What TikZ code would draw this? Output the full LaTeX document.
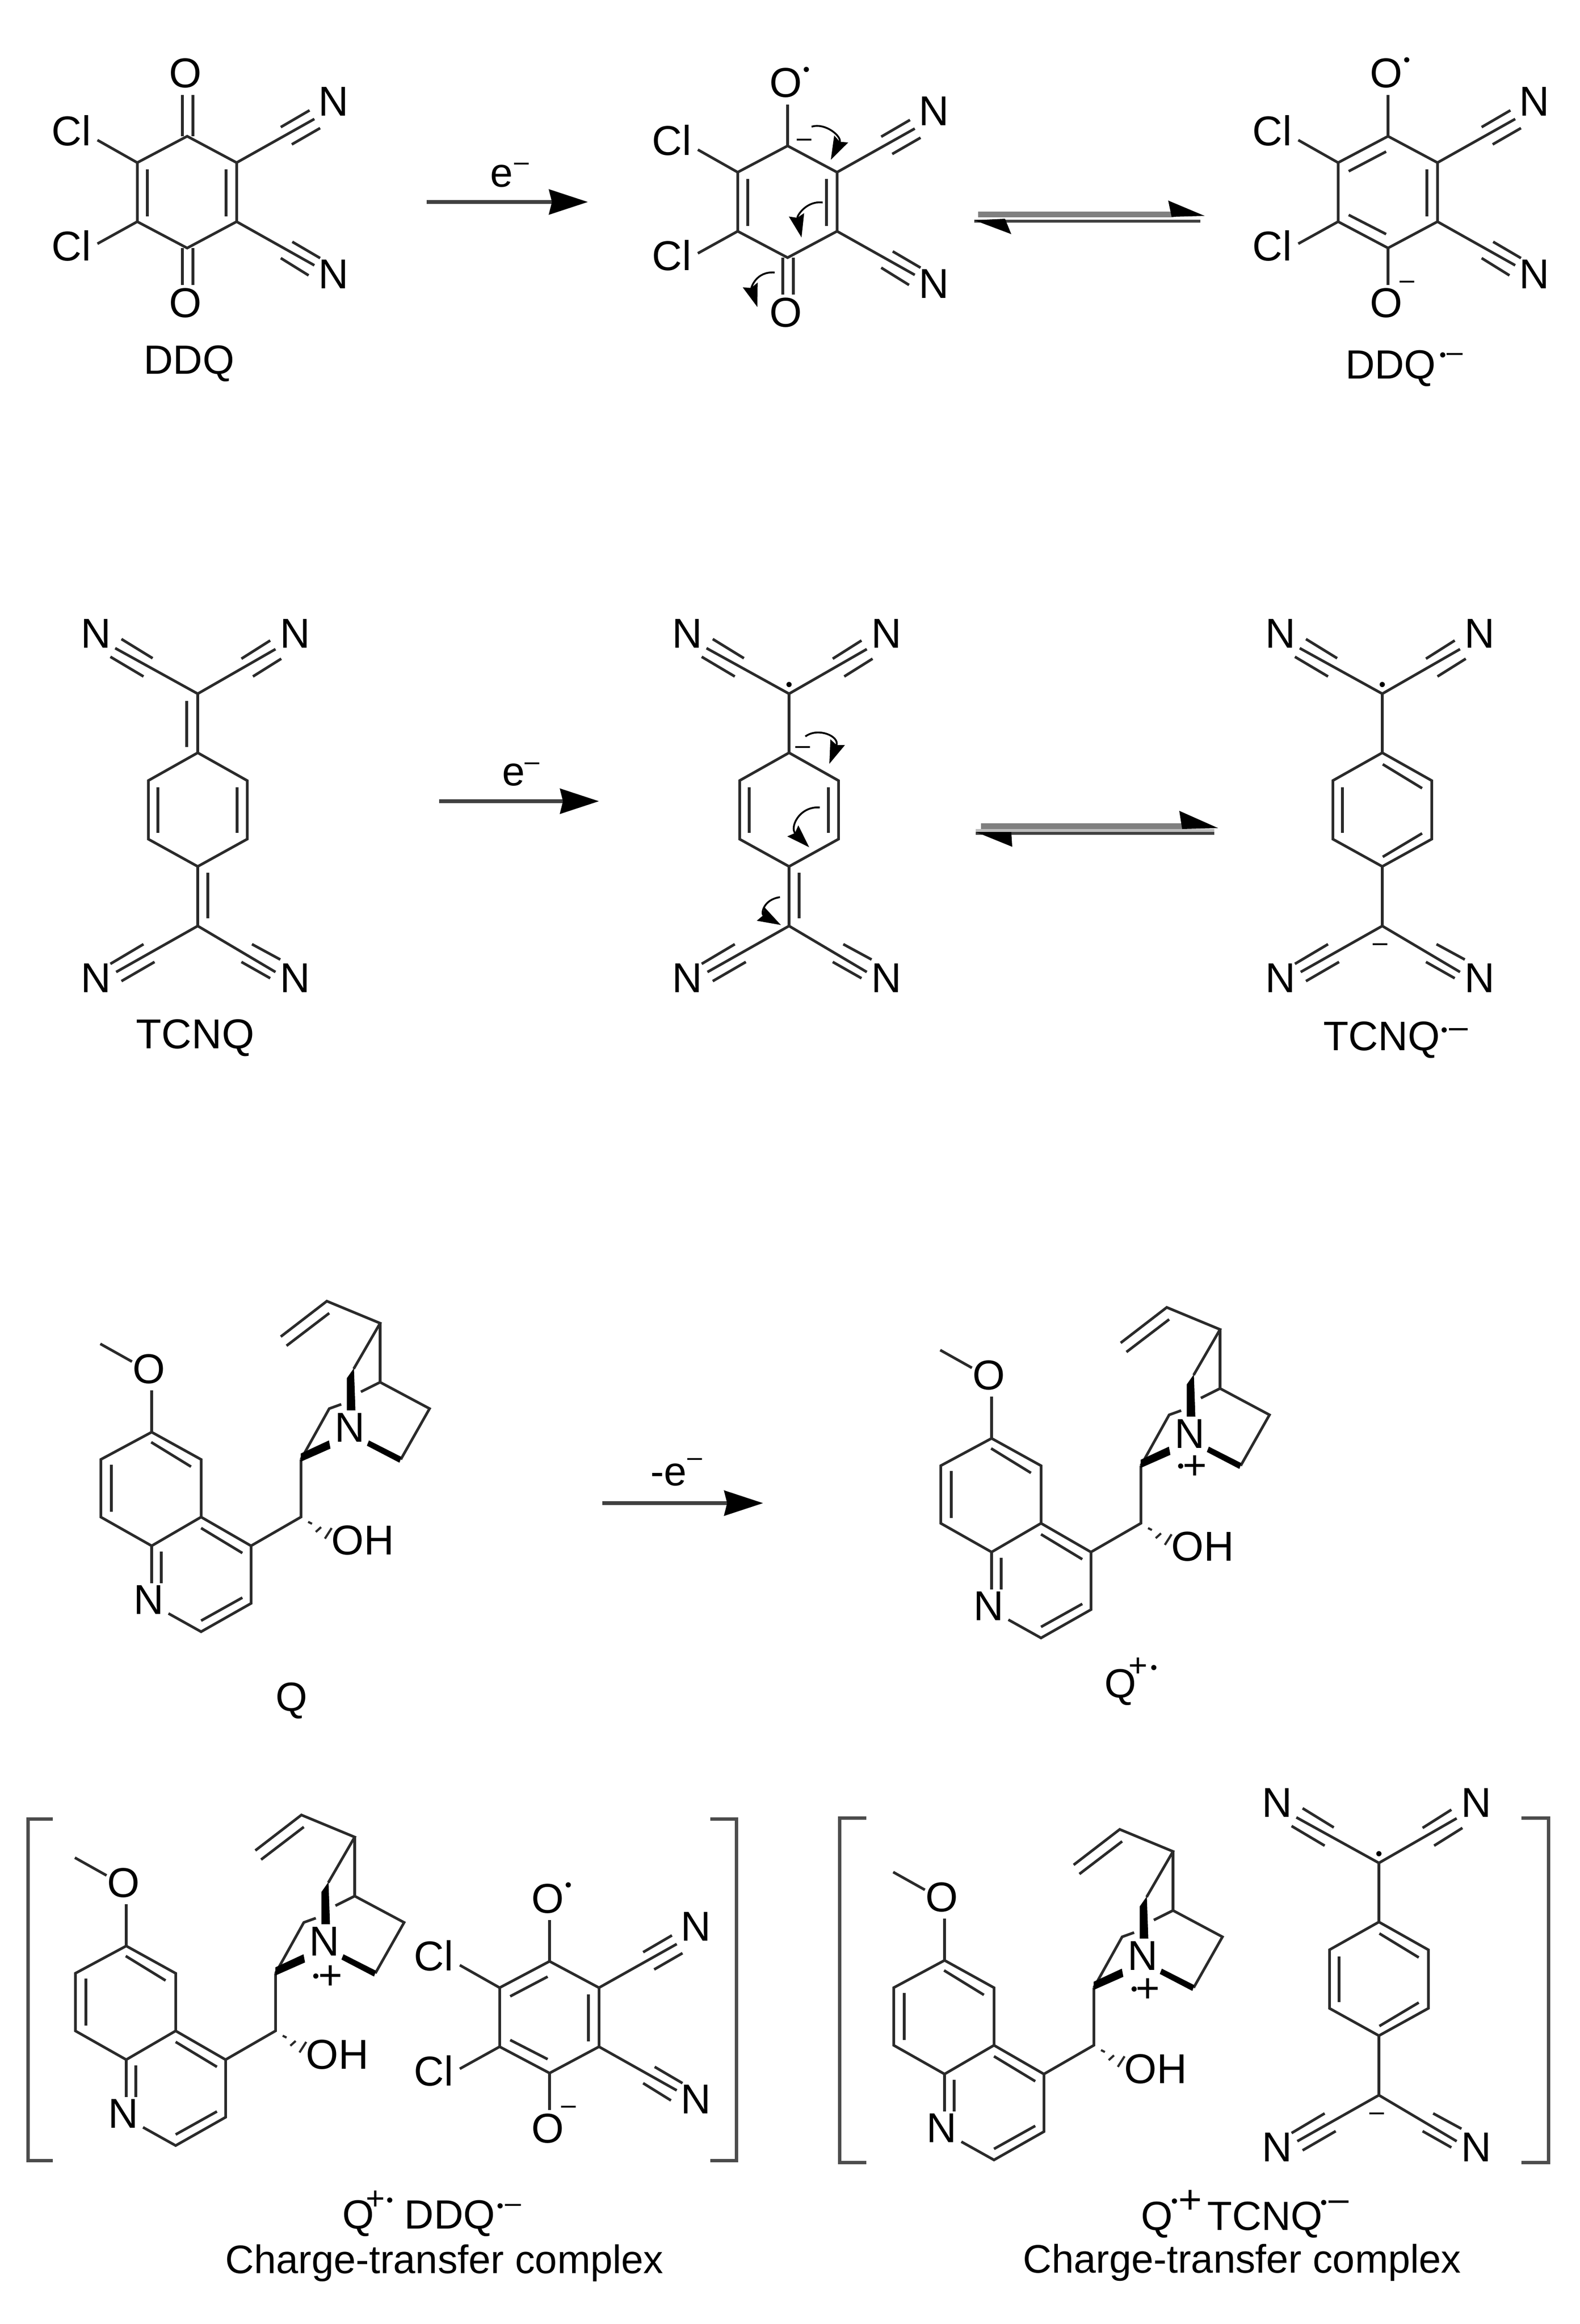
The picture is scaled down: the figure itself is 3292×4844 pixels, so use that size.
\documentclass[tikz,border=0pt]{standalone}
\usepackage{fontspec}
\setmainfont{Liberation Sans}
\usetikzlibrary{arrows.meta}
\definecolor{ink}{HTML}{2A2A2A}
\newcommand\supr[2]{\kern#1pt\raisebox{#2pt}{\fontsize{4}{4}\selectfont •}}
\newcommand\supm[3]{\kern#1pt\raisebox{#2pt}{\fontsize{#3}{#3}\selectfont –}}
\newcommand\supp[3]{\kern#1pt\raisebox{#2pt}{\fontsize{#3}{#3}\selectfont +}}
\tikzset{
  bond/.style={draw=ink,line width=.55pt,line join=miter},
  wedge/.style={fill=black,draw=black,line width=.1pt},
  hashb/.style={draw=ink,line width=.45pt},
  atom/.style={font=\fontsize{8.7}{10}\selectfont,inner sep=0pt,text=black},
  lab/.style={font=\fontsize{8.5}{10}\selectfont,inner sep=0pt,text=black},
  capt/.style={font=\fontsize{8.3}{10}\selectfont,inner sep=0pt,text=black,anchor=base},
  rdot/.style={font=\fontsize{4}{4}\selectfont,inner sep=0pt,anchor=base,yshift=-1.48pt,text=black},
  rminus/.style={font=\fontsize{5.5}{5.5}\selectfont,inner sep=0pt,anchor=base,yshift=-1.5pt,text=black},
  rplus/.style={font=\fontsize{8.6}{8.6}\selectfont,inner sep=0pt,anchor=base,yshift=-2.85pt,text=black},
  rxn/.style={draw=black!75,line width=.75pt,-{Stealth[length=8.1pt,width=5.2pt,inset=.6pt,color=black,fill=black]}},
  curly/.style={draw=black,line width=.38pt,-{Stealth[length=4.8pt,width=3.2pt,inset=.6pt]}},
  eqgray/.style={draw=black!50,line width=1.25pt},
  eqlight/.style={draw=black!26,line width=.6pt},
  eqdark/.style={draw=black!75,line width=.6pt},
  head/.style={fill=black},
  brk/.style={draw=black!70,line width=.7pt},
}
% ---- DDQ skeleton -----------------------------------------------------------
\newcommand\ddqskel{%
  \coordinate (T) at (0,-116); \coordinate (UR) at (103,-61); \coordinate (LR) at (103,62);
  \coordinate (B) at (0,117);  \coordinate (LL) at (-104,62); \coordinate (UL) at (-104,-61);
  \node[atom] (ClT) at (-241,-128) {Cl};
  \node[atom] (ClB) at (-241,112) {Cl};
  \node[atom] (NT) at (305,-188) {N};
  \node[atom] (NB) at (305,172) {N};
  \coordinate (ClTe) at (-187,-108); \coordinate (ClBe) at (-187,108);
  \coordinate (NTe) at (265,-152); \coordinate (NBe) at (265,153);
  \draw[bond] (T)--(UR)--(LR)--(B)--(LL)--(UL)--cycle;
  \draw[bond] (UL)--(ClTe); \draw[bond] (LL)--(ClBe);
  \draw[bond] (UR)--(NTe); \draw[bond] (LR)--(NBe);
  \draw[bond] (195,-135)--(255,-170); \draw[bond] (218,-99)--(277,-133);
  \draw[bond] (219,104)--(277,138); \draw[bond] (195,138)--(253,174);
  \draw[bond] (81,-47)--(81,51);
}
\newcommand\ddqOtop{\node[atom] (OT) at (-4,-247) {O};}
\newcommand\ddqObot{\node[atom] (OB) at (-4,232) {O};}
\newcommand\ddqTsingle{\coordinate (OTe) at (0,-202); \draw[bond] (T)--(OTe);}
\newcommand\ddqBsingle{\coordinate (OBe) at (0,194); \draw[bond] (B)--(OBe);}
\newcommand\ddqTdouble{\draw[bond] (-10,-116)--(-10,-202); \draw[bond] (12,-116)--(12,-202);}
\newcommand\ddqBdouble{\draw[bond] (-10,117)--(-10,194); \draw[bond] (12,117)--(12,194);}
\newcommand\ddqLvert{\draw[bond] (-83,-47)--(-83,51);}
\newcommand\ddqLangled{\draw[bond] (-82,-43)--(-4,-84); \draw[bond] (-82,48)--(-4,88);}
\newcommand\ddqdot{\node[rdot] (rad) at (39,-276) {•};}
\newcommand\ddqneg{\node[rminus] (neg) at (40,186) {–};}
% ---- TCNQ skeleton ----------------------------------------------------------
\newcommand\tcnqskel{%
  \coordinate (T) at (0,-119); \coordinate (UR) at (103,-61); \coordinate (LR) at (103,61);
  \coordinate (B) at (0,118);  \coordinate (LL) at (-103,61); \coordinate (UL) at (-103,-61);
  \coordinate (Ct) at (0,-242); \coordinate (Cb) at (0,242);
  \node[atom] (NTL) at (-212,-367) {N};
  \node[atom] (NTR) at (203,-367) {N};
  \node[atom] (NBL) at (-212,351) {N};
  \node[atom] (NBR) at (203,351) {N};
  \coordinate (TLe) at (-172,-337); \coordinate (TRe) at (162,-335);
  \coordinate (BLe) at (-170,338); \coordinate (BRe) at (162,338);
  \draw[bond] (T)--(UR)--(LR)--(B)--(LL)--(UL)--cycle;
  \draw[bond] (Ct)--(TLe); \draw[bond] (Ct)--(TRe);
  \draw[bond] (Cb)--(BLe); \draw[bond] (Cb)--(BRe);
  \draw[bond] (-159,-356)--(-94,-316); \draw[bond] (-182,-319)--(-113,-278);
  \draw[bond] (151,-353)--(91,-315); \draw[bond] (174,-315)--(115,-278);
  \draw[bond] (-182,321)--(-113,280); \draw[bond] (-159,357)--(-90,317);
  \draw[bond] (151,351)--(91,317); \draw[bond] (172,312)--(113,280);
  \draw[bond] (-83,-47)--(-83,48);
}
\newcommand\tcnqTsingle{\draw[bond] (Ct)--(T);}
\newcommand\tcnqBsingle{\draw[bond] (Cb)--(B);}
\newcommand\tcnqTdouble{\draw[bond] (Ct)--(T); \draw[bond] (-23,-227)--(-23,-131);}
\newcommand\tcnqBdouble{\draw[bond] (Cb)--(B); \draw[bond] (21,131)--(21,226);}
\newcommand\tcnqRvert{\draw[bond] (82,-47)--(82,48);}
\newcommand\tcnqRangled{\draw[bond] (1,-95)--(83,-45); \draw[bond] (1,98)--(83,49);}
\newcommand\tcnqdot{\node[rdot] (rad) at (0,-262) {•};}
\newcommand\tcnqneg{\node[rminus] (neg) at (-4,279) {–};}
% ---- quinine skeleton (coordinates of the free base) -----------------------
\newcommand\quinine{%
  \coordinate (me) at (209,2801); \coordinate (ome) at (275,2838);
  \node[atom] (ox) at (310,2854) {O};
  \coordinate (oc) at (316,2898);
  \coordinate (a1) at (316,2985); \coordinate (a2) at (419,3042); \coordinate (a3) at (419,3162);
  \coordinate (a4) at (316,3222); \coordinate (a5) at (210,3162); \coordinate (a6) at (210,3042);
  \node[atom] (nq) at (310,3335) {N};
  \coordinate (nq1) at (316,3300); \coordinate (nq2) at (351,3363);
  \coordinate (b1) at (419,3401); \coordinate (b2) at (523,3342); \coordinate (b3) at (523,3222);
  \coordinate (c1) at (627,3162); \coordinate (c2) at (627,3042);
  \node[atom] (oh) at (756,3211) {OH};
  \node[atom] (nb) at (729,2976) {N};
  \coordinate (d1) at (686,2936); \coordinate (d1n) at (711,2927);
  \coordinate (d2) at (737,2853); \coordinate (d3) at (792,2758); \coordinate (vi) at (681,2712);
  \coordinate (vi2) at (585,2786); \coordinate (d4) at (792,2881); \coordinate (d4n) at (752,2901);
  \coordinate (d5) at (895,2936); \coordinate (d6) at (835,3042);
  \draw[bond] (me)--(ome);
  \draw[bond] (oc)--(a1);
  \draw[bond] (a1)--(a2)--(a3)--(a4)--(a5)--(a6)--cycle;
  \draw[bond] (a3)--(b3)--(b2)--(b1)--(nq2);
  \draw[bond] (a4)--(nq1);
  \draw[bond] (b3)--(c1)--(c2);
  \draw[bond] (c2)--(d1)--(d1n);
  \draw[bond] (d2)--(d3)--(vi)--(vi2);
  \draw[bond] (d3)--(d4);
  \draw[bond] (d4n)--(d4)--(d5)--(d6);
  \draw[bond] (315,3006)--(398,3057);
  \draw[bond] (232,3053)--(232,3151);
  \draw[bond] (419,3185)--(505,3237);
  \draw[bond] (336,3234)--(336,3300);
  \draw[bond] (419,3378)--(505,3330);
  \draw[bond] (597,2805)--(686,2737);
  \fill[wedge] (627,3046)--(627,3030)--(685,3003)--(688,3019)--cycle;
  \fill[wedge] (d2)--(723,2873)--(723,2939)--(740,2939)--cycle;
  \fill[wedge] (769,3003)--(765,3013)--(832,3048)--(836,3037)--cycle;
  \draw[hashb] (642,3172)--(650,3176);
  \draw[hashb] (658,3193)--(669,3183);
  \draw[hashb] (677,3207)--(691,3185);
}
\begin{document}
\begin{tikzpicture}[x=.1pt,y=-.1pt]
\useasboundingbox (0,0) rectangle (3292,4844);
\fill[white] (0,0) rectangle (3292,4844);

% ---------- row 1: DDQ
\begin{scope}[shift={(390,400)},name prefix=da-]
  \ddqskel \ddqOtop \ddqObot \ddqTdouble \ddqBdouble \ddqLvert
\end{scope}
\node[lab] (ddqname) at (394,758) {DDQ};
\coordinate (ra1) at (889,421); \coordinate (ra2) at (1225,421);
\draw[rxn] (ra1)--(ra2);
\node[lab,anchor=base west] (ea) at (1019,389) {e\supm{.3}{3.4}{5.5}};

\begin{scope}[shift={(1641,420)},name prefix=db-]
  \ddqskel \ddqOtop \ddqObot \ddqTsingle \ddqBdouble \ddqLvert \ddqdot
  \node[rminus] (neg) at (35,-130) {–};
\end{scope}
\draw[curly] (1691,264) .. controls (1720,255) and (1755,285) .. (1731,333);
\draw[curly] (1714,422) .. controls (1680,418) and (1660,450) .. (1670,495);
\draw[curly] (1614,568) .. controls (1575,565) and (1565,600) .. (1578,640);

\coordinate (eqa1) at (2038,447); \coordinate (eqa2) at (2445,447);
\coordinate (eqa3) at (2030,461); \coordinate (eqa4) at (2501,461);
\draw[eqgray] (eqa1)--(eqa2);
\draw[eqdark] (eqa3)--(eqa4);
\fill[head] (2434,418)--(2510,450)--(2441,452)--cycle;
\fill[head] (2030,459)--(2107,488)--(2094,456)--cycle;

\begin{scope}[shift={(2892,400)},name prefix=dc-]
  \ddqskel \ddqOtop \ddqObot \ddqTsingle \ddqBsingle \ddqLangled \ddqdot \ddqneg
\end{scope}
\node[lab,anchor=base west] (ddqr) at (2801,789) {DDQ\supr{.8}{3.6}\supm{.1}{3.6}{6}};

% ---------- row 2: TCNQ
\begin{scope}[shift={(412,1688)},name prefix=ta-]
  \tcnqskel \tcnqTdouble \tcnqBdouble \tcnqRvert
\end{scope}
\node[lab,font=\fontsize{8.7}{10}\selectfont] (tcnqname) at (407,2163) {TCNQ};
\coordinate (rb1) at (915,1670); \coordinate (rb2) at (1248,1670);
\draw[rxn] (rb1)--(rb2);
\node[lab,anchor=base west] (eb) at (1044,1637) {e\supm{0}{3.2}{5.5}};

\begin{scope}[shift={(1644,1688)},name prefix=tb-]
  \tcnqskel \tcnqTsingle \tcnqBdouble \tcnqRvert \tcnqdot
  \node[rminus] (neg) at (29,-132) {–};
\end{scope}
\draw[curly] (1678,1535) .. controls (1705,1515) and (1750,1535) .. (1728,1592);
\draw[curly] (1708,1683) .. controls (1665,1680) and (1645,1725) .. (1686,1766);
\draw[curly] (1625,1870) .. controls (1590,1875) and (1585,1905) .. (1627,1928);

\coordinate (eqb1) at (2044,1722); \coordinate (eqb2) at (2470,1722);
\coordinate (eqb3) at (2033,1731); \coordinate (eqb4) at (2530,1731);
\coordinate (eqb5) at (2033,1737); \coordinate (eqb6) at (2530,1737);
\draw[eqgray] (eqb1)--(eqb2);
\draw[eqlight] (eqb3)--(eqb4);
\draw[eqdark] (eqb5)--(eqb6);
\fill[head] (2457,1690)--(2538,1726)--(2463,1728)--cycle;
\fill[head] (2033,1734)--(2109,1765)--(2107,1734)--cycle;

\begin{scope}[shift={(2880,1688)},name prefix=tc-]
  \tcnqskel \tcnqTsingle \tcnqBsingle \tcnqRangled \tcnqdot \tcnqneg
\end{scope}
\node[lab,anchor=base west,font=\fontsize{8.6}{10}\selectfont] (tcnqr) at (2755,2189) {TCNQ\supr{.2}{2.9}\supm{.3}{2.6}{7}};

% ---------- row 3: quinine
\begin{scope}[name prefix=qa-]
  \quinine
\end{scope}
\node[lab] (qname) at (608,3545) {Q};
\coordinate (rc1) at (1255,3133); \coordinate (rc2) at (1590,3133);
\draw[rxn] (rc1)--(rc2);
\node[lab,anchor=base west] (ec) at (1353,3096) {-e\supm{.2}{4.1}{5.5}};

\begin{scope}[shift={(1750,13)},name prefix=qb-]
  \quinine
  \node[rdot] (rad) at (710,3042) {•};
  \node[rplus] (pos) at (740,3042) {+};
\end{scope}
\node[lab,anchor=base west] (qr) at (2299,3538) {Q\supp{-1.6}{4.4}{6.8}\supr{.7}{4.9}};

% ---------- bottom left complex
\coordinate (bl1) at (110,3791); \coordinate (bl2) at (58,3791); \coordinate (bl3) at (58,4503); \coordinate (bl4) at (110,4503);
\coordinate (br1) at (1480,3791); \coordinate (br2) at (1534,3791); \coordinate (br3) at (1534,4503); \coordinate (br4) at (1480,4503);
\draw[brk] (bl1)--(bl2)--(bl3)--(bl4);
\draw[brk] (br1)--(br2)--(br3)--(br4);
\begin{scope}[shift={(-53,1071)},name prefix=qc-]
  \quinine
  \node[rdot] (rad) at (711,3047) {•};
  \node[rplus] (pos) at (742,3047) {+};
\end{scope}
\begin{scope}[shift={(1145,4204)},name prefix=dd-]
  \ddqskel \ddqOtop \ddqObot \ddqTsingle \ddqBsingle \ddqLangled \ddqdot \ddqneg
\end{scope}
\node[lab,anchor=base west] (cta) at (711,4645) {Q\supp{-1.7}{4}{6.8}\supr{.4}{4.6}\kern2.3pt DDQ\supr{.4}{3.4}\supm{.3}{3.4}{6}};
\node[capt] (ctb) at (926,4738) {Charge-transfer complex};

% ---------- bottom right complex
\coordinate (cl1) at (1805,3789); \coordinate (cl2) at (1749,3789); \coordinate (cl3) at (1749,4507); \coordinate (cl4) at (1805,4507);
\coordinate (cr1) at (3170,3789); \coordinate (cr2) at (3226,3789); \coordinate (cr3) at (3226,4507); \coordinate (cr4) at (3170,4507);
\draw[brk] (cl1)--(cl2)--(cl3)--(cl4);
\draw[brk] (cr1)--(cr2)--(cr3)--(cr4);
\begin{scope}[shift={(1652,1101)},name prefix=qd-]
  \quinine
  \node[rdot] (rad) at (711,3044) {•};
  \node[rplus] (pos) at (740,3044) {+};
\end{scope}
\begin{scope}[shift={(2873,4125)},name prefix=te-]
  \tcnqskel \tcnqTsingle \tcnqBsingle \tcnqRangled \tcnqdot \tcnqneg
\end{scope}
\node[lab,anchor=base west] (ctc) at (2375,4648) {Q\supr{-.3}{4.7}\supp{.1}{3.5}{8.4}\kern1.1pt TCNQ\supr{-.4}{4.4}\supm{.3}{4}{7.5}};
\node[capt] (ctd) at (2588,4737) {Charge-transfer complex};
\end{tikzpicture}
\end{document}
